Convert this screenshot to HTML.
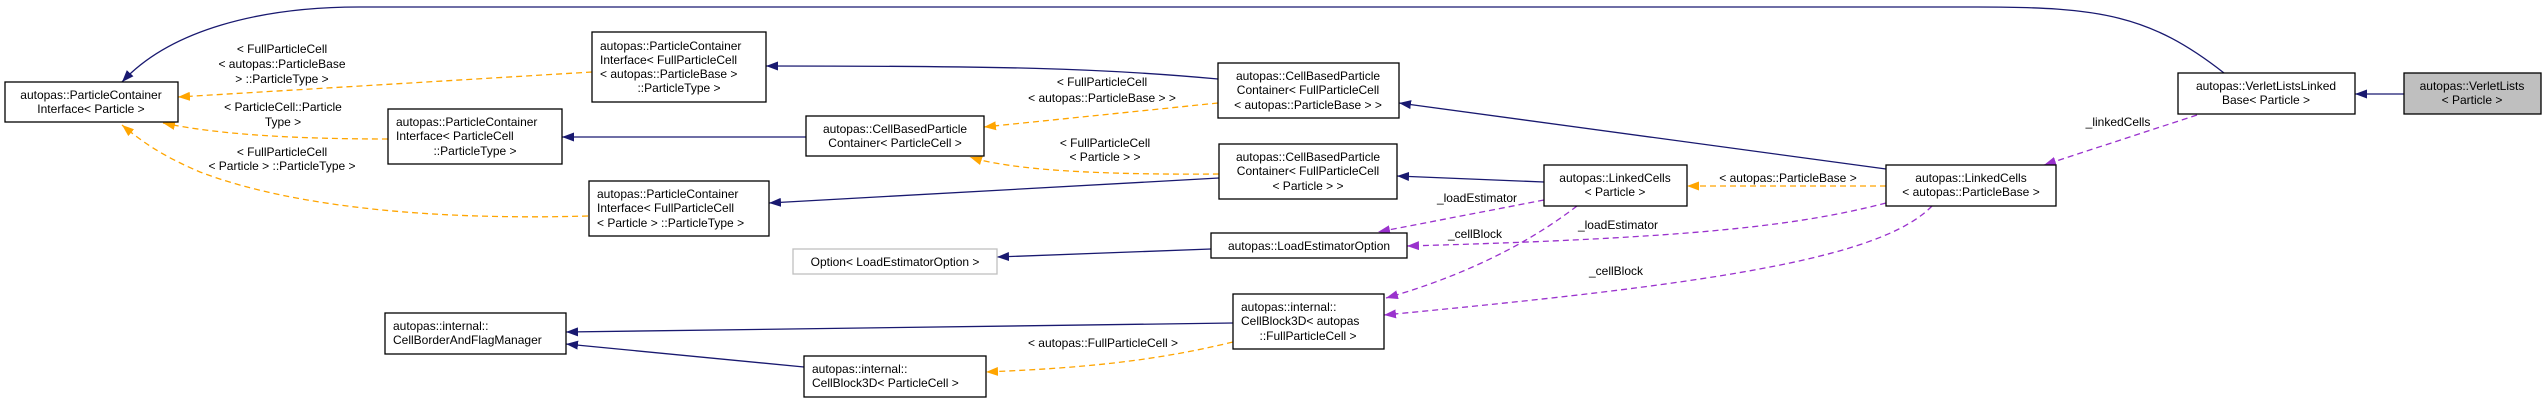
<!DOCTYPE html>
<html><head><meta charset="utf-8"><style>
html,body{margin:0;padding:0;background:#fff;}
svg{display:block;}
text{font-family:"Liberation Sans",Arial,sans-serif;font-size:12px;fill:#000;}
.b{fill:#fff;stroke:#000;stroke-width:1.3;}
.n{fill:none;stroke:#191970;stroke-width:1.3;}
.o{fill:none;stroke:#FFA500;stroke-width:1.3;stroke-dasharray:6,4;}
.p{fill:none;stroke:#9A32CD;stroke-width:1.3;stroke-dasharray:6,4;}
</style></head><body>
<svg width="2547" height="403" viewBox="0 0 2547 403" xmlns="http://www.w3.org/2000/svg">
<defs>
<marker id="an" markerWidth="12" markerHeight="9" refX="12" refY="4.5" orient="auto" markerUnits="userSpaceOnUse"><path d="M0,0 L12,4.5 L0,9 z" fill="#191970"/></marker>
<marker id="ao" markerWidth="12" markerHeight="9" refX="12" refY="4.5" orient="auto" markerUnits="userSpaceOnUse"><path d="M0,0 L12,4.5 L0,9 z" fill="#FFA500"/></marker>
<marker id="ap" markerWidth="12" markerHeight="9" refX="12" refY="4.5" orient="auto" markerUnits="userSpaceOnUse"><path d="M0,0 L12,4.5 L0,9 z" fill="#9A32CD"/></marker>
</defs>

<path class="n" marker-end="url(#an)" d="M2224,73 C2150,15 2100,7 1978,7 L359,7 C260,7 170,30 122,82"/>
<path class="n" marker-end="url(#an)" d="M2404,94 L2355,94"/>
<path class="o" marker-end="url(#ao)" d="M592,72 L178,97"/>
<path class="o" marker-end="url(#ao)" d="M388,139 C300,139 220,135 163,123"/>
<path class="o" marker-end="url(#ao)" d="M588,216 C450,220 300,210 200,172 C160,155 140,140 122,125"/>
<path class="n" marker-end="url(#an)" d="M1218,79 C1100,68 1000,66 766,66"/>
<path class="n" marker-end="url(#an)" d="M806,137 L562,137"/>
<path class="o" marker-end="url(#ao)" d="M1218,103 L984,127"/>
<path class="o" marker-end="url(#ao)" d="M1219,174 C1100,175 1010,170 970,157"/>
<path class="n" marker-end="url(#an)" d="M1219,178 L769,203"/>
<path class="n" marker-end="url(#an)" d="M1211,249 L997,257"/>
<path class="n" marker-end="url(#an)" d="M1233,323 L566,332"/>
<path class="n" marker-end="url(#an)" d="M804,367 L566,344"/>
<path class="o" marker-end="url(#ao)" d="M1233,342 C1150,362 1080,368 986,372"/>
<path class="n" marker-end="url(#an)" d="M1886,169 L1399,103"/>
<path class="n" marker-end="url(#an)" d="M1544,182 L1397,176"/>
<path class="o" marker-end="url(#ao)" d="M1886,186 L1687,186"/>
<path class="p" marker-end="url(#ap)" d="M2197,115 L2044,165"/>
<path class="p" marker-end="url(#ap)" d="M1544,200 L1378,232"/>
<path class="p" marker-end="url(#ap)" d="M1886,203 C1800,225 1700,238 1407,246"/>
<path class="p" marker-end="url(#ap)" d="M1577,206 C1520,250 1450,280 1386,298"/>
<path class="p" marker-end="url(#ap)" d="M1932,206 C1880,260 1700,285 1384,315"/>

<g text-anchor="middle">
<text x="282" y="53">&lt; FullParticleCell</text>
<text x="282" y="68">&lt; autopas::ParticleBase</text>
<text x="282" y="83">&gt; ::ParticleType &gt;</text>
<text x="283" y="111">&lt; ParticleCell::Particle</text>
<text x="283" y="126">Type &gt;</text>
<text x="282" y="156">&lt; FullParticleCell</text>
<text x="282" y="170">&lt; Particle &gt; ::ParticleType &gt;</text>
<text x="1102" y="86">&lt; FullParticleCell</text>
<text x="1102" y="102">&lt; autopas::ParticleBase &gt; &gt;</text>
<text x="1105" y="147">&lt; FullParticleCell</text>
<text x="1105" y="161">&lt; Particle &gt; &gt;</text>
<text x="1103" y="347">&lt; autopas::FullParticleCell &gt;</text>
<text x="1788" y="182">&lt; autopas::ParticleBase &gt;</text>
<text x="2118" y="126">_linkedCells</text>
<text x="1477" y="202">_loadEstimator</text>
<text x="1618" y="229">_loadEstimator</text>
<text x="1475" y="238">_cellBlock</text>
<text x="1616" y="275">_cellBlock</text>
</g>

<rect class="b" x="5" y="82" width="173" height="40"/>
<text x="91" y="99" text-anchor="middle">autopas::ParticleContainer</text>
<text x="91" y="113" text-anchor="middle">Interface&lt; Particle &gt;</text>

<rect class="b" x="592" y="32" width="174" height="70"/>
<text x="600" y="50">autopas::ParticleContainer</text>
<text x="600" y="64">Interface&lt; FullParticleCell</text>
<text x="600" y="78">&lt; autopas::ParticleBase &gt;</text>
<text x="679" y="92" text-anchor="middle">::ParticleType &gt;</text>

<rect class="b" x="388" y="109" width="174" height="55"/>
<text x="396" y="126">autopas::ParticleContainer</text>
<text x="396" y="140">Interface&lt; ParticleCell</text>
<text x="475" y="155" text-anchor="middle">::ParticleType &gt;</text>

<rect class="b" x="806" y="116" width="178" height="40"/>
<text x="895" y="133" text-anchor="middle">autopas::CellBasedParticle</text>
<text x="895" y="147" text-anchor="middle">Container&lt; ParticleCell &gt;</text>

<rect class="b" x="589" y="181" width="180" height="55"/>
<text x="597" y="198">autopas::ParticleContainer</text>
<text x="597" y="212">Interface&lt; FullParticleCell</text>
<text x="597" y="227">&lt; Particle &gt; ::ParticleType &gt;</text>

<rect x="793" y="249" width="204" height="25" fill="#fff" stroke="#bfbfbf" stroke-width="1.3"/>
<text x="895" y="266" text-anchor="middle">Option&lt; LoadEstimatorOption &gt;</text>

<rect class="b" x="385" y="313" width="181" height="41"/>
<text x="393" y="330">autopas::internal::</text>
<text x="393" y="344">CellBorderAndFlagManager</text>

<rect class="b" x="804" y="356" width="182" height="41"/>
<text x="812" y="373">autopas::internal::</text>
<text x="812" y="387">CellBlock3D&lt; ParticleCell &gt;</text>

<rect class="b" x="1218" y="63" width="181" height="55"/>
<text x="1308" y="80" text-anchor="middle">autopas::CellBasedParticle</text>
<text x="1308" y="94" text-anchor="middle">Container&lt; FullParticleCell</text>
<text x="1308" y="109" text-anchor="middle">&lt; autopas::ParticleBase &gt; &gt;</text>

<rect class="b" x="1219" y="144" width="178" height="55"/>
<text x="1308" y="161" text-anchor="middle">autopas::CellBasedParticle</text>
<text x="1308" y="175" text-anchor="middle">Container&lt; FullParticleCell</text>
<text x="1308" y="190" text-anchor="middle">&lt; Particle &gt; &gt;</text>

<rect class="b" x="1211" y="233" width="196" height="25"/>
<text x="1309" y="250" text-anchor="middle">autopas::LoadEstimatorOption</text>

<rect class="b" x="1233" y="294" width="151" height="55"/>
<text x="1241" y="311">autopas::internal::</text>
<text x="1241" y="325">CellBlock3D&lt; autopas</text>
<text x="1308" y="340" text-anchor="middle">::FullParticleCell &gt;</text>

<rect class="b" x="1544" y="165" width="143" height="41"/>
<text x="1615" y="182" text-anchor="middle">autopas::LinkedCells</text>
<text x="1615" y="196" text-anchor="middle">&lt; Particle &gt;</text>

<rect class="b" x="1886" y="165" width="170" height="41"/>
<text x="1971" y="182" text-anchor="middle">autopas::LinkedCells</text>
<text x="1971" y="196" text-anchor="middle">&lt; autopas::ParticleBase &gt;</text>

<rect class="b" x="2178" y="73" width="177" height="41"/>
<text x="2266" y="90" text-anchor="middle">autopas::VerletListsLinked</text>
<text x="2266" y="104" text-anchor="middle">Base&lt; Particle &gt;</text>

<rect x="2404" y="73" width="137" height="41" fill="#bfbfbf" stroke="#000" stroke-width="1.3"/>
<text x="2472" y="90" text-anchor="middle">autopas::VerletLists</text>
<text x="2472" y="104" text-anchor="middle">&lt; Particle &gt;</text>
</svg>
</body></html>
